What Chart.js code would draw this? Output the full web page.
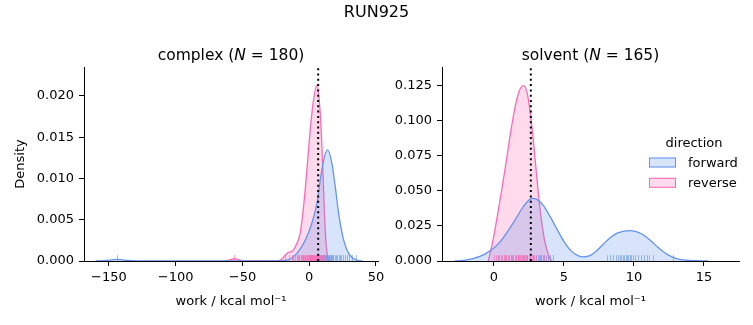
<!DOCTYPE html>
<html>
<head>
<meta charset="utf-8">
<script src="https://cdn.jsdelivr.net/npm/chart.js@4.4.1/dist/chart.umd.min.js"></script>
<style>
  body { margin: 0; background: #fff; }
  #wrap { position: relative; width: 753px; height: 325px; }
  canvas { position: absolute; left: 0; top: 0; }
</style>
</head>
<body>
<div id="wrap">
  <canvas id="complex" width="753" height="325"></canvas>
  <canvas id="solvent" width="753" height="325"></canvas>
</div>
<script>
// figure texts
const figTitle = 'RUN925';
const directions = ['forward', 'reverse'];
const xLabel = 'work / kcal mol\u207B\u00B9';

// complex phase: KDE curves (x in kcal/mol, y density)
const complexN = 180;
const complexDG = 6.7;
const complexFwdX = [-160, -152, -147, -144, -141, -136, -128, -25, -16.75, -9.25, -3, 2, 5.75, 8.25, 10.75, 13.75, 17, 19.5, 22, 25.25, 29.5, 35.75, 40];
const complexFwdY = [0, 0.00006, 0.00016, 0.0002, 0.00016, 0.00006, 0, 0, 0.0001, 0.00093, 0.0025, 0.0046, 0.007, 0.0098, 0.0122, 0.01345, 0.0118, 0.009, 0.0058, 0.0029, 0.00093, 0.0001, 0];
const complexRevX = [-63, -60, -57, -55, -52, -48, -35, -26, -21.75, -18, -16, -14.25, -12, -10.5, -6.75, -4.25, -1.75, 0.75, 3.2, 5.8, 8.25, 9.5, 10.75, 12, 13.75, 15];
const complexRevY = [0, 0.0001, 0.00025, 0.00025, 0.0001, 0.00002, 0, 0.00002, 0.0001, 0.0007, 0.001, 0.0011, 0.0013, 0.0017, 0.0034, 0.0066, 0.011, 0.0159, 0.0195, 0.0213, 0.0179, 0.0138, 0.0086, 0.0037, 0.0005, 0];
// rug samples
const complexRugFwd = [-144, -12, -8, -5, -2, 0, 1.5, 3, 4, 5, 6, 7, 7.5, 8, 8.5, 9, 9.5, 10, 10.5, 11, 11.5, 12, 12.5, 13, 13.5, 14, 14.5, 15, 15.5, 16, 16.5, 17, 17.5, 18, 19, 20, 21, 22, 23, 24, 25.5, 27, 28.5, 30, 32, 35];
const complexRugRev = [-56, -18, -15.5, -13, -11, -9.5, -8.5, -7.5, -6.5, -6, -5.5, -5, -4.5, -4, -3.5, -3, -2.5, -2, -1.5, -1, -0.5, 0, 0.4, 0.8, 1.2, 1.6, 2, 2.4, 2.8, 3.2, 3.6, 4, 4.4, 4.8, 5.2, 5.6, 6, 6.4, 6.8, 7.2, 7.6, 8, 8.5, 9, 9.5, 10, 10.7, 12];
// axis limits and ticks
const complexXMin = -168.7, complexXMax = 51.5, complexXStep = 50;
const complexYMax = 0.0235, complexYStep = 0.005;

// solvent phase
const solventN = 165;
const solventDG = 2.64;
const solventFwdX = [-2.8, -2.4, -2.0, -1.5, -1.0, -0.5, 0.0, 0.5, 1.0, 1.5, 2.0, 2.4, 2.75, 3.1, 3.5, 4.0, 4.5, 5.0, 5.5, 6.0, 6.4, 6.8, 7.3, 7.8, 8.3, 8.8, 9.3, 9.7, 10.1, 10.6, 11.1, 11.6, 12.1, 12.6, 13.1, 13.7, 14.4, 15.3];
const solventFwdY = [0, 0.0003, 0.0007, 0.0017, 0.0033, 0.0058, 0.0092, 0.0144, 0.0213, 0.029, 0.0373, 0.0425, 0.0447, 0.0438, 0.04, 0.032, 0.0228, 0.014, 0.0074, 0.0039, 0.003, 0.0036, 0.007, 0.0118, 0.0166, 0.0199, 0.0214, 0.0217, 0.0212, 0.0191, 0.0154, 0.0108, 0.0066, 0.0035, 0.0016, 0.0006, 0.0002, 0];
const solventRevX = [-0.4, -0.3, 0.0, 0.3, 0.6, 0.9, 1.2, 1.5, 1.8, 2.14, 2.4, 2.6, 2.8, 3.0, 3.2, 3.4, 3.6, 3.8, 4.0, 4.15];
const solventRevY = [0, 0.004, 0.018, 0.035, 0.053, 0.072, 0.092, 0.109, 0.121, 0.1252, 0.119, 0.106, 0.088, 0.067, 0.046, 0.029, 0.016, 0.0075, 0.002, 0];
const solventRugFwd = [0.3, 0.8, 1.3, 1.7, 2.1, 2.4, 2.6, 2.8, 3.0, 3.15, 3.3, 3.4, 3.5, 3.6, 3.7, 3.85, 4.0, 4.2, 8.1, 8.3, 8.5, 8.7, 8.85, 9.0, 9.1, 9.2, 9.3, 9.4, 9.5, 9.6, 9.7, 9.8, 9.9, 10.1, 10.3, 10.5, 10.7, 10.9, 11.1, 11.35, 12.8];
const solventRugRev = [0.0, 0.15, 0.3, 0.4, 0.5, 0.6, 0.7, 0.8, 0.9, 1.0, 1.05, 1.1, 1.2, 1.25, 1.3, 1.4, 1.5, 1.55, 1.6, 1.7, 1.75, 1.8, 1.9, 1.95, 2.0, 2.05, 2.1, 2.15, 2.2, 2.3, 2.35, 2.4, 2.5, 2.6, 2.7, 2.8, 2.9, 3.0, 3.2, 3.4, 3.6, 3.9];
const solventXMin = -3.7, solventXMax = 17.5, solventXStep = 5;
const solventYMax = 0.1385, solventYStep = 0.025;

const blue = 'rgb(100,149,237)', blueFill = 'rgba(100,149,237,0.25)', blueRug = 'rgba(100,149,237,0.6)';
const pink = 'rgb(255,105,180)', pinkFill = 'rgba(255,105,180,0.25)', pinkRug = 'rgba(255,105,180,0.65)';

Chart.defaults.font.family = '"DejaVu Sans"';
Chart.defaults.font.size = 13;
Chart.defaults.color = '#000';

function toPoints(xs, ys) {
    return xs.map((x, i) => ({ x: x, y: ys[i] }));
}

function minusSign(v) {
    return v < 0 ? '\u2212' + Math.abs(v) : String(v);
}

function drawMathTitle(ctx, cx, y, pre, sym, post) {
    const up = '15.5px "DejaVu Sans"', it = 'italic 15.5px "DejaVu Sans"';
    ctx.font = up;
    const w1 = ctx.measureText(pre).width, w3 = ctx.measureText(post).width;
    ctx.font = it;
    const w2 = ctx.measureText(sym).width;
    let x = cx - (w1 + w2 + w3) / 2;
    ctx.textAlign = 'left';
    ctx.textBaseline = 'alphabetic';
    ctx.fillStyle = '#000';
    ctx.font = up; ctx.fillText(pre, x, y); x += w1;
    ctx.font = it; ctx.fillText(sym, x, y); x += w2;
    ctx.font = up; ctx.fillText(post, x, y);
}

// rug ticks along the x axis, placed with the chart's x scale
const rugPlugin = {
    id: 'rug',
    afterDatasetDraw(chart, args, opts) {
        if (args.index !== 1) return;
        const ctx = chart.ctx, area = chart.chartArea, xs = chart.scales.x;
        const h = (area.bottom - area.top) * 0.03;
        ctx.save();
        ctx.lineWidth = 1;
        opts.sets.forEach(set => {
            ctx.strokeStyle = set.color;
            set.values.forEach(v => {
                const px = Math.round(xs.getPixelForValue(v)) + 0.5;
                ctx.beginPath();
                ctx.moveTo(px, area.bottom);
                ctx.lineTo(px, area.bottom - h);
                ctx.stroke();
            });
        });
        ctx.restore();
    }
};

// panel title with italic N, plus figure title and legend where asked
const decorPlugin = {
    id: 'decor',
    afterDraw(chart, args, opts) {
        const ctx = chart.ctx, area = chart.chartArea;
        ctx.save();
        drawMathTitle(ctx, (area.left + area.right) / 2, area.top - 7, opts.name + ' (', 'N', ' = ' + opts.n + ')');
        if (opts.figTitle) {
            ctx.font = '16px "DejaVu Sans"';
            ctx.textAlign = 'center';
            ctx.fillText(opts.figTitle, chart.width / 2, 16.5);
        }
        if (opts.legend) {
            const lx = area.right - 90, ty = area.top + 79.5;
            ctx.font = '13px "DejaVu Sans"';
            ctx.textAlign = 'center';
            ctx.fillText('direction', area.right - 45, ty);
            ctx.textAlign = 'left';
            const cols = [[blueFill, blue], [pinkFill, pink]];
            directions.forEach((d, i) => {
                const py = ty + 11 + i * 20.3;
                ctx.fillStyle = cols[i][0];
                ctx.fillRect(lx, py, 27, 10);
                ctx.strokeStyle = cols[i][1];
                ctx.lineWidth = 1;
                ctx.strokeRect(lx + 0.5, py + 0.5, 26, 9);
                ctx.fillStyle = '#000';
                ctx.fillText(d, lx + 39, py + 9.3);
            });
        }
        ctx.restore();
    }
};

function makePanel(id, p) {
    return new Chart(document.getElementById(id), {
        type: 'line',
        data: {
            datasets: [
                {
                    data: [{ x: p.dg, y: 0 }, { x: p.dg, y: p.yMax }],
                    borderColor: '#000', borderWidth: 2, borderDash: [2, 3.3],
                    tension: 0, cubicInterpolationMode: 'default', fill: false
                },
                {
                    label: directions[0], data: toPoints(p.fwdX, p.fwdY),
                    borderColor: blue, backgroundColor: blueFill, fill: 'origin'
                },
                {
                    label: directions[1], data: toPoints(p.revX, p.revY),
                    borderColor: pink, backgroundColor: pinkFill, fill: 'origin'
                }
            ]
        },
        options: {
            responsive: false,
            animation: false,
            layout: { padding: p.pad },
            elements: {
                point: { radius: 0 },
                line: { borderWidth: 1.3, cubicInterpolationMode: 'monotone' }
            },
            plugins: {
                legend: { display: false },
                tooltip: { enabled: false },
                rug: { sets: [{ values: p.rugFwd, color: blueRug }, { values: p.rugRev, color: pinkRug }] },
                decor: { name: p.name, n: p.n, figTitle: p.figTitle, legend: p.legend }
            },
            scales: {
                x: {
                    type: 'linear', min: p.xMin, max: p.xMax,
                    ticks: { stepSize: p.xStep, includeBounds: false, padding: 4, maxRotation: 0, callback: minusSign },
                    grid: { drawOnChartArea: false, tickLength: 5, tickColor: '#000' },
                    border: { color: '#000', width: 1 },
                    title: { display: true, text: xLabel, padding: { top: 0, bottom: 16 } },
                    afterFit: s => { s.height = 64; }
                },
                y: {
                    type: 'linear', min: 0, max: p.yMax,
                    ticks: { stepSize: p.yStep, includeBounds: false, padding: 5, callback: v => v.toFixed(3) },
                    grid: { drawOnChartArea: false, tickLength: 5, tickColor: '#000' },
                    border: { color: '#000', width: 1 },
                    title: { display: p.yTitle, text: 'Density', padding: { top: 13.2, bottom: 0 } },
                    afterFit: s => { s.width = p.yWidth; }
                }
            }
        },
        plugins: [rugPlugin, decorPlugin]
    });
}

var complexChart = makePanel('complex', {
    name: 'complex', n: complexN, dg: complexDG,
    fwdX: complexFwdX, fwdY: complexFwdY, revX: complexRevX, revY: complexRevY,
    rugFwd: complexRugFwd, rugRev: complexRugRev,
    xMin: complexXMin, xMax: complexXMax, xStep: complexXStep,
    yMax: complexYMax, yStep: complexYStep,
    yTitle: true, yWidth: 84,
    pad: { left: 0, right: 375, top: 67, bottom: 0 }
});

var solventChart = makePanel('solvent', {
    name: 'solvent', n: solventN, dg: solventDG,
    fwdX: solventFwdX, fwdY: solventFwdY, revX: solventRevX, revY: solventRevY,
    rugFwd: solventRugFwd, rugRev: solventRugRev,
    xMin: solventXMin, xMax: solventXMax, xStep: solventXStep,
    yMax: solventYMax, yStep: solventYStep,
    yTitle: false, yWidth: 60, figTitle: figTitle, legend: true,
    pad: { left: 382, right: 14, top: 67, bottom: 0 }
});
</script>
</body>
</html>
